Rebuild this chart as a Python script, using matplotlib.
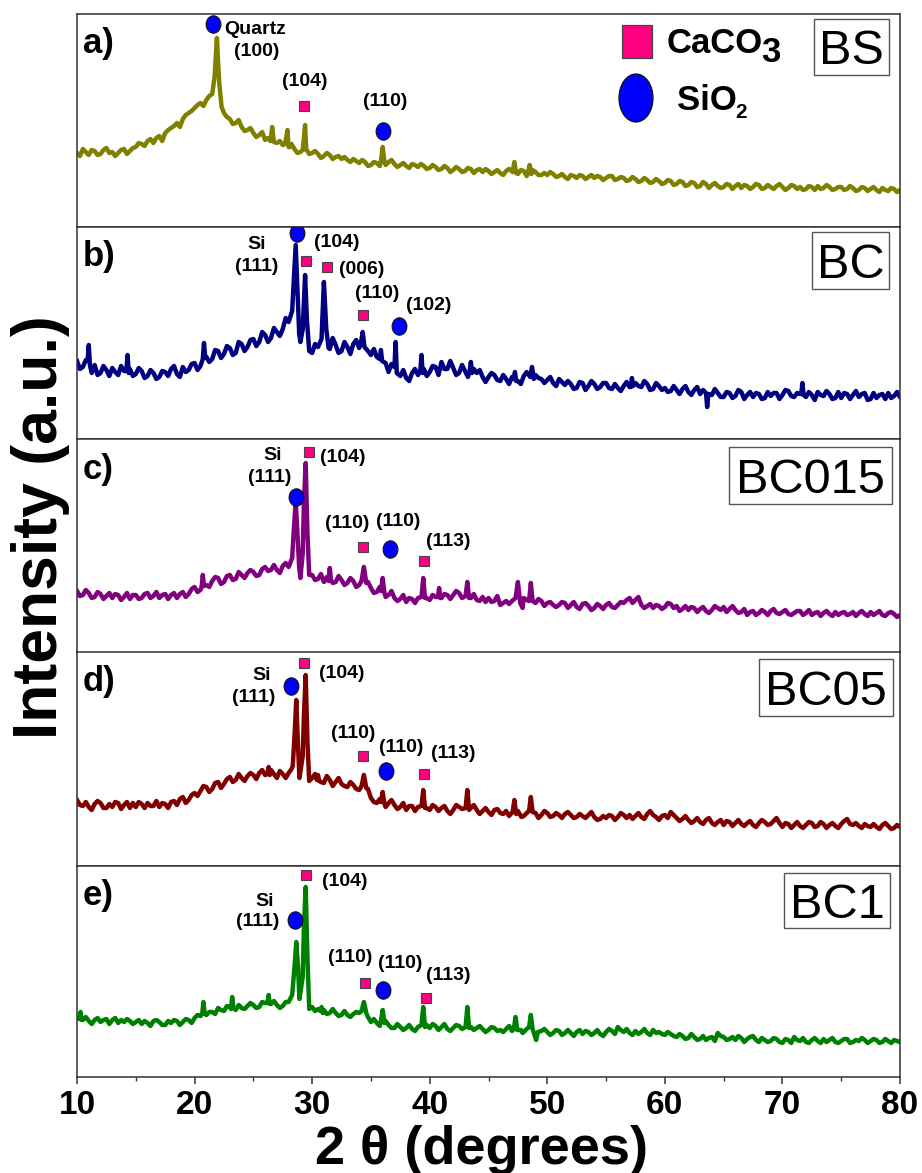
import numpy as np
import matplotlib
matplotlib.use("Agg")
from matplotlib import pyplot as plt
from matplotlib.patches import Rectangle, Ellipse
from matplotlib.path import Path
from matplotlib.transforms import Affine2D

plt.rcParams['font.family'] = ['Liberation Sans', 'DejaVu Sans']

# 2theta grids (degrees): whole/half degrees and the quarter points between them
x_grid = np.arange(10, 80.01, 0.5)
x_mid = np.arange(10.25, 80, 0.5)

# ---- background intensities (a.u.) on the 0.5 degree grid ----
bs_base = [74, 78, 72, 76, 73, 79, 75, 74, 78, 76,
           80, 83, 86, 84, 91, 94, 99, 104, 108, 114,
           119, 124, 127, 133, 140, 114, 108, 104, 100, 97,
           94, 92, 87, 89, 84, 82, 80, 78, 75, 77,
           74, 73, 71, 72, 70, 68, 67, 68, 64, 65,
           62, 64, 66, 65, 63, 62, 61, 63, 60, 61,
           59, 60, 58, 59, 57, 58, 56, 58, 57, 55,
           56, 55, 54, 56, 55, 53, 56, 54, 55, 52,
           52, 53, 51, 50, 52, 49, 51, 50, 49, 50,
           49, 51, 48, 49, 47, 48, 46, 47, 45, 46,
           44, 46, 43, 45, 42, 44, 41, 43, 42, 41,
           40, 42, 41, 39, 41, 40, 42, 39, 40, 41,
           40, 39, 41, 40, 38, 40, 41, 39, 40, 38,
           40, 38, 39, 37, 39, 38, 37, 39, 36, 38,
           37]
bs_mid = [71, 75, 77, 72, 77, 74, 71, 77, 73, 79,
          84, 81, 88, 89, 86, 97, 101, 100, 112, 116,
          122, 121, 131, 150, 130, 110, 103, 107, 96, 99,
          90, 95, 89, 84, 86, 79, 83, 74, 79, 73,
          76, 69, 74, 68, 71, 70, 65, 66, 67, 61,
          65, 61, 62, 67, 60, 64, 59, 62, 63, 58,
          62, 57, 61, 55, 60, 55, 59, 54, 58, 58,
          53, 57, 52, 58, 52, 57, 51, 57, 52, 54,
          55, 50, 53, 48, 51, 52, 48, 52, 51, 47,
          51, 47, 50, 46, 50, 45, 49, 44, 48, 43,
          47, 42, 46, 41, 45, 40, 45, 39, 44, 39,
          43, 38, 43, 42, 38, 43, 38, 42, 38, 43,
          37, 42, 38, 37, 41, 37, 38, 42, 37, 40,
          37, 41, 36, 40, 36, 40, 35, 37, 39, 35]
bc_base = [78, 72, 70, 74, 66, 69, 71, 64, 68, 70,
           65, 68, 63, 66, 62, 67, 70, 65, 72, 69,
           76, 73, 82, 80, 88, 85, 91, 86, 95, 92,
           100, 97, 104, 101, 107, 110, 117, 124, 97, 100,
           86, 92, 98, 90, 94, 88, 92, 95, 91, 98,
           84, 82, 80, 67, 72, 63, 61, 66, 64, 70,
           67, 72, 77, 70, 71, 66, 68, 74, 66, 62,
           62, 64, 58, 60, 62, 58, 63, 60, 64, 60,
           59, 56, 60, 54, 55, 51, 56, 53, 55, 52,
           56, 50, 51, 53, 52, 56, 52, 55, 50, 53,
           51, 48, 49, 50, 47, 49, 45, 50, 44, 46,
           42, 46, 43, 47, 44, 42, 45, 41, 43, 46,
           44, 48, 42, 45, 42, 44, 47, 43, 45, 41,
           41, 45, 44, 42, 46, 40, 41, 45, 46, 43,
           42]
bc_mid = [70, 79, 66, 64, 73, 63, 67, 73, 61, 63,
          71, 61, 69, 60, 68, 63, 73, 62, 67, 75,
          69, 86, 77, 89, 81, 93, 84, 97, 88, 99,
          93, 107, 97, 111, 103, 121, 113, 140, 105, 90,
          95, 85, 95, 101, 86, 97, 85, 99, 90, 88,
          90, 74, 76, 75, 60, 69, 58, 70, 59, 63,
          73, 64, 70, 78, 64, 74, 62, 70, 69, 57,
          66, 59, 64, 55, 66, 55, 67, 57, 61, 56,
          62, 53, 57, 58, 50, 57, 49, 58, 50, 56,
          51, 55, 48, 57, 48, 53, 58, 49, 56, 49,
          47, 53, 45, 53, 44, 52, 49, 41, 50, 42,
          47, 41, 49, 40, 47, 46, 40, 47, 46, 40,
          49, 43, 46, 40, 47, 39, 44, 48, 40, 47,
          46, 40, 48, 45, 39, 46, 44, 40, 41, 47]
bc015_base = [62, 58, 60, 56, 59, 57, 55, 58, 56, 54,
              58, 55, 60, 57, 55, 59, 58, 55, 61, 59,
              66, 63, 68, 72, 75, 71, 78, 74, 78, 80,
              81, 78, 86, 83, 83, 87, 86, 90, 75, 180,
              78, 74, 71, 80, 71, 73, 70, 72, 68, 78,
              65, 61, 62, 58, 55, 54, 51, 54, 55, 60,
              53, 56, 55, 58, 58, 60, 58, 55, 53, 56,
              55, 52, 48, 52, 52, 50, 55, 50, 50, 52,
              50, 48, 48, 50, 48, 46, 49, 47, 45, 47,
              48, 46, 48, 50, 55, 53, 48, 47, 45, 47,
              46, 49, 47, 44, 43, 45, 44, 42, 43, 45,
              46, 44, 43, 41, 38, 42, 40, 41, 42, 40,
              41, 39, 40, 42, 40, 38, 41, 40, 39, 41,
              40, 38, 41, 40, 39, 41, 40, 38, 40, 39,
              38]
bc015_mid = [57, 63, 55, 61, 54, 60, 59, 53, 60, 58,
             54, 59, 55, 61, 58, 54, 60, 59, 56, 64,
             61, 70, 66, 76, 69, 77, 73, 81, 75, 83,
             77, 84, 82, 88, 80, 90, 83, 95, 80, 76,
             73, 79, 76, 70, 77, 68, 75, 66, 73, 71,
             60, 66, 56, 62, 52, 58, 55, 50, 57, 55,
             58, 52, 59, 54, 62, 55, 54, 59, 52, 51,
             51, 57, 50, 49, 55, 48, 53, 47, 54, 47,
             51, 46, 51, 45, 51, 44, 50, 43, 49, 44,
             50, 45, 51, 53, 50, 56, 45, 49, 48, 44,
             50, 45, 42, 47, 46, 41, 46, 40, 47, 43,
             41, 47, 40, 44, 41, 38, 43, 38, 44, 39,
             43, 38, 42, 38, 43, 40, 37, 42, 37, 38,
             41, 39, 37, 42, 37, 38, 42, 37, 41, 36]
bc05_base = [66, 60, 59, 62, 63, 58, 59, 63, 61, 58,
             59, 62, 63, 60, 59, 62, 64, 61, 69, 66,
             73, 75, 79, 77, 84, 82, 89, 86, 88, 90,
             91, 93, 91, 96, 88, 92, 93, 98, 83, 180,
             88, 91, 83, 86, 84, 82, 79, 81, 76, 85,
             68, 63, 70, 63, 61, 59, 56, 60, 59, 62,
             56, 59, 58, 55, 56, 59, 62, 58, 56, 55,
             54, 56, 53, 55, 52, 55, 50, 49, 53, 51,
             53, 50, 51, 52, 51, 49, 50, 51, 49, 47,
             48, 50, 49, 51, 51, 50, 49, 52, 51, 46,
             51, 54, 48, 47, 46, 45, 44, 46, 43, 44,
             41, 44, 43, 42, 43, 41, 43, 44, 42, 48,
             39, 42, 41, 40, 41, 43, 40, 42, 41, 40,
             42, 47, 41, 40, 42, 39, 39, 41, 40, 38,
             39]
bc05_mid = [61, 64, 56, 65, 58, 62, 64, 57, 64, 63,
            64, 58, 60, 65, 63, 58, 65, 67, 63, 71,
            70, 80, 74, 83, 78, 87, 84, 92, 85, 93,
            87, 96, 88, 92, 95, 88, 97, 92, 84, 82,
            92, 84, 90, 80, 88, 80, 84, 77, 82, 77,
            64, 67, 59, 66, 57, 63, 60, 55, 64, 58,
            61, 55, 60, 52, 61, 57, 59, 61, 52, 58,
            51, 57, 52, 50, 56, 49, 53, 52, 48, 55,
            49, 53, 48, 54, 48, 52, 48, 54, 46, 50,
            51, 46, 53, 48, 47, 53, 47, 55, 49, 50,
            48, 51, 45, 50, 43, 48, 42, 48, 41, 46,
            45, 40, 46, 40, 45, 39, 46, 41, 45, 43,
            43, 38, 44, 38, 44, 39, 44, 38, 43, 38,
            45, 42, 43, 38, 40, 42, 37, 43, 37, 41]
bc1_base = [59, 57, 56, 57, 55, 58, 57, 54, 55, 56,
            55, 53, 54, 56, 55, 52, 54, 56, 55, 57,
            59, 61, 62, 65, 69, 66, 70, 67, 69, 71,
            72, 70, 74, 73, 72, 71, 75, 78, 75, 180,
            70, 68, 67, 64, 64, 62, 62, 63, 64, 70,
            55, 54, 62, 52, 49, 50, 49, 48, 50, 60,
            49, 51, 50, 48, 49, 51, 52, 50, 49, 48,
            47, 49, 47, 48, 46, 50, 45, 44, 45, 46,
            45, 44, 46, 44, 44, 45, 43, 45, 44, 43,
            45, 46, 50, 45, 44, 46, 45, 44, 47, 45,
            42, 43, 40, 41, 39, 40, 38, 37, 40, 44,
            40, 38, 37, 39, 38, 41, 35, 37, 36, 38,
            34, 37, 40, 36, 35, 37, 36, 38, 37, 35,
            36, 38, 35, 36, 37, 36, 37, 35, 36, 37,
            35]
bc1_mid = [54, 60, 53, 59, 57, 53, 59, 57, 58, 53,
           57, 56, 51, 57, 52, 56, 57, 52, 58, 54,
           62, 58, 65, 63, 67, 71, 66, 72, 68, 74,
           69, 75, 71, 76, 69, 75, 72, 82, 72, 66,
           66, 71, 63, 68, 61, 66, 60, 65, 67, 60,
           58, 51, 56, 49, 53, 47, 52, 46, 53, 52,
           53, 47, 53, 46, 52, 48, 53, 47, 51, 45,
           50, 46, 45, 51, 49, 47, 48, 47, 42, 48,
           42, 47, 42, 47, 41, 47, 46, 42, 47, 41,
           48, 43, 47, 48, 42, 43, 48, 42, 44, 43,
           45, 41, 43, 38, 43, 37, 41, 39, 36, 41,
           37, 40, 41, 35, 40, 37, 39, 35, 39, 35,
           38, 34, 37, 39, 34, 39, 34, 35, 39, 34,
           38, 34, 37, 39, 34, 38, 34, 38, 34, 36]

# ---- sharp reflections (2theta, intensity) ----
bs_peak_x = [21.7, 21.8, 21.9, 22.0, 22.1, 22.3, 26.45, 26.6, 26.75, 27.7, 27.9, 28.1,
             29.2, 29.4, 29.6, 35.85, 36.0, 36.15, 47.05, 47.2, 47.35, 48.35, 48.5, 48.65]
bs_peak_y = [150, 170, 189, 165, 144, 120, 86, 100, 85, 83, 97, 80,
             77, 102, 76, 66, 80, 65, 55, 65, 54, 54, 62, 53]
bc_peak_x = [10.9, 11.0, 11.1, 14.2, 14.3, 14.4, 20.7, 20.8, 20.9,
             28.3, 28.45, 28.6, 28.75, 28.9, 29.2, 29.4, 29.55, 29.75,
             30.8, 31.0, 31.2, 31.4, 34.15, 34.3, 34.45, 35.75, 35.85, 35.95,
             37.0, 37.1, 37.2, 39.2, 39.3, 39.4, 43.4, 43.5, 43.6,
             47.15, 47.25, 47.35, 48.55, 48.7, 48.85, 57.1, 57.2, 57.3,
             63.5, 63.6, 63.7, 71.6, 71.7, 71.8]
bc_peak_y = [78, 94, 74, 68, 84, 66, 80, 96, 82,
             128, 160, 194, 150, 105, 110, 164, 120, 88,
             100, 157, 110, 91, 96, 107, 92, 80, 89, 78,
             72, 97, 66, 68, 84, 66, 68, 77, 66,
             60, 67, 58, 62, 72, 60, 52, 61, 53,
             46, 32, 45, 45, 56, 44]
bc015_peak_x = [20.6, 20.7, 20.8, 28.3, 28.45, 28.6, 28.75, 28.9,
                29.2, 29.3, 29.45, 29.6, 29.75, 31.4, 31.5, 31.6,
                34.2, 34.4, 34.6, 35.85, 36.0, 36.15, 39.3, 39.45, 39.6,
                40.7, 40.8, 40.9, 43.05, 43.2, 43.35,
                47.3, 47.5, 47.7, 47.9, 48.45, 48.6, 48.75]
bc015_peak_y = [66, 78, 67, 95, 125, 152, 120, 85,
                100, 150, 190, 120, 78, 72, 85, 73,
                72, 86, 70, 62, 75, 60, 56, 75, 55,
                56, 65, 55, 57, 71, 55,
                55, 71, 50, 45, 52, 70, 52]
bc05_peak_x = [26.2, 26.3, 26.4, 28.35, 28.5, 28.65, 28.8, 28.92,
               29.2, 29.3, 29.45, 29.6, 29.75, 30.4, 30.5, 30.6,
               34.2, 34.4, 34.6, 35.85, 36.0, 36.15, 39.3, 39.45, 39.6,
               43.05, 43.2, 43.35, 47.05, 47.2, 47.35, 47.8, 48.45, 48.6, 48.75]
bc05_peak_y = [92, 99, 91, 100, 130, 166, 120, 88,
               110, 150, 191, 125, 85, 86, 91, 85,
               80, 91, 78, 64, 74, 62, 60, 76, 58,
               58, 76, 56, 54, 66, 52, 49, 55, 69, 54]
bc1_peak_x = [10.2, 10.3, 10.4, 20.65, 20.75, 20.85, 23.1, 23.2, 23.3, 26.2, 26.3, 26.4,
              28.3, 28.5, 28.65, 28.8, 28.92, 29.2, 29.3, 29.45, 29.6, 29.75,
              30.7, 30.8, 30.9, 34.2, 34.4, 34.6, 35.85, 36.0, 36.15,
              39.3, 39.45, 39.6, 43.05, 43.2, 43.35,
              47.15, 47.3, 47.45, 47.9, 48.45, 48.6, 48.75, 49.05, 49.2]
bc1_peak_y = [58, 65, 57, 63, 75, 64, 68, 80, 69, 74, 82, 73,
              82, 110, 135, 110, 78, 100, 150, 190, 120, 68,
              66, 70, 64, 66, 75, 64, 56, 67, 54,
              52, 70, 50, 50, 70, 49,
              48, 60, 47, 44, 50, 62, 48, 37, 45]

samples = ['BS', 'BC', 'BC015', 'BC05', 'BC1']
letters = ['a)', 'b)', 'c)', 'd)', 'e)']
colors = ['#808000', '#000080', '#800080', '#800000', '#008000']


def merge(base, mid, px, py):
    # background on both grids, with the sharp reflections put in
    gx = np.concatenate([x_grid, x_mid])
    gy = np.concatenate([np.asarray(base, float), np.asarray(mid, float)])
    keep = [i for i, x in enumerate(gx) if all(abs(x - p) > 0.08 for p in px)]
    x = np.concatenate([gx[keep], px])
    y = np.concatenate([gy[keep], py])
    order = np.argsort(x)
    return x[order], y[order]


series = [merge(bs_base, bs_mid, bs_peak_x, bs_peak_y),
          merge(bc_base, bc_mid, bc_peak_x, bc_peak_y),
          merge(bc015_base, bc015_mid, bc015_peak_x, bc015_peak_y),
          merge(bc05_base, bc05_mid, bc05_peak_x, bc05_peak_y),
          merge(bc1_base, bc1_mid, bc1_peak_x, bc1_peak_y)]

# phase markers and Miller indices for every panel
annotations = [
    {'circle': [(21.57, 203), (36.0, 96)], 'square': [(29.3, 121)],
     'text': [('(100)', 25.3, 175), ('(104)', 29.4, 145), ('(110)', 36.2, 126)]},
    {'circle': [(28.7, 206), (37.4, 113)], 'square': [(29.5, 178), (31.3, 172), (34.3, 124)],
     'text': [('Si', 25.3, 194), ('(111)', 25.3, 172), ('(104)', 32.1, 196), ('(006)', 34.2, 169),
              ('(110)', 35.5, 146), ('(102)', 39.9, 134)]},
    {'circle': [(28.6, 156), (36.6, 104)], 'square': [(29.7, 201), (34.3, 106), (39.5, 92)],
     'text': [('Si', 26.6, 197), ('(111)', 26.4, 175), ('(104)', 32.6, 195), ('(110)', 33.0, 130),
              ('(110)', 37.3, 131), ('(113)', 41.6, 112)]},
    {'circle': [(28.2, 180), (36.3, 95)], 'square': [(29.3, 203), (34.3, 110), (39.5, 92)],
     'text': [('Si', 25.7, 191), ('(111)', 25.0, 169), ('(104)', 32.5, 193), ('(110)', 33.5, 133),
              ('(110)', 37.6, 118), ('(113)', 42.0, 112)]},
    {'circle': [(28.5, 157), (36.0, 87)], 'square': [(29.5, 202), (34.5, 94), (39.7, 79)],
     'text': [('Si', 26.0, 176), ('(111)', 25.4, 156), ('(104)', 32.8, 195), ('(110)', 33.2, 119),
              ('(110)', 37.5, 114), ('(113)', 41.6, 102)]},
]

W, H = 922, 1173
panel_px = [(14, 227), (227, 439), (439, 653), (652, 866), (866, 1077)]
box_px = [(814, 889, 19, 75), (812, 889, 232, 289), (729, 892, 447, 504),
          (759, 893, 659, 716), (784, 890, 873, 928)]
ax_left, ax_right = 77, 900
aw = ax_right - ax_left

oval = Path(Affine2D().scale(0.85, 1.0).transform_path(Path.unit_circle()).vertices,
            Path.unit_circle().codes)

fig = plt.figure(figsize=(W / 100, H / 100), dpi=100)
axes = []
for i, (top, bottom) in enumerate(panel_px):
    ax = fig.add_axes([ax_left / W, 1 - bottom / H, aw / W, (bottom - top) / H])
    axes.append(ax)
    ph = bottom - top
    x, y = series[i]
    ax.plot(x, y, color=colors[i], lw=3.2, solid_joinstyle='round', zorder=2)
    ax.set_xlim(10, 80)
    ax.set_ylim(0, ph)
    ax.set_yticks([])
    for sp in ax.spines.values():
        sp.set_color('#333333')
        sp.set_linewidth(1.1)

    ann = annotations[i]
    for cx, cy in ann['circle']:
        ax.plot(cx, cy, marker=oval, ms=12.5, mfc='#0000FF', mec='#111111', mew=0.8, zorder=4)
    for sx, sy in ann['square']:
        ax.plot(sx, sy, marker='s', ms=7.3, mfc='#FF0080', mec='#444444', mew=0.8, zorder=4)
    for t, tx, ty in ann['text']:
        ax.text(tx, ty, t, fontsize=14, fontweight='bold', ha='center', va='center', zorder=5)

    ax.text(6 / aw, 1 - 30 / ph, letters[i], transform=ax.transAxes, fontsize=25,
            fontweight='bold', ha='left', va='center')

    bx0, bx1, by0, by1 = box_px[i]
    ax.add_patch(Rectangle(((bx0 - ax_left) / aw, (bottom - by1) / ph), (bx1 - bx0) / aw,
                           (by1 - by0) / ph, transform=ax.transAxes, fc='white', ec='#555555',
                           lw=1.0, zorder=5))
    ax.text(((bx0 + bx1) / 2 - ax_left) / aw, (bottom - (by0 + by1) / 2) / ph, samples[i],
            transform=ax.transAxes, fontsize=35, ha='center', va='center_baseline', zorder=6)

    if i < 4:
        ax.tick_params(axis='x', which='both', bottom=False, labelbottom=False)

# quartz label in panel a
axes[0].text(22.5, 197, 'Quartz', fontsize=14, fontweight='bold', ha='left', va='center')

# phase legend in panel a
ax0 = axes[0]
ax0.add_patch(Rectangle((0.6622, 0.7934), 0.0365, 0.155, transform=ax0.transAxes,
                        fc='#FF0080', ec='#444444', lw=0.9, zorder=5))
ax0.text(0.7169, 0.8169, 'CaCO', transform=ax0.transAxes, fontsize=25, fontweight='bold',
         va='baseline', ha='left')
ax0.text(0.831, 0.775, '3', transform=ax0.transAxes, fontsize=25, fontweight='bold',
         va='baseline', ha='left')
ax0.add_patch(Ellipse((0.6792, 0.6056), 0.0413, 0.2254, transform=ax0.transAxes,
                      fc='#0000FF', ec='#111111', lw=0.9, zorder=5))
ax0.text(0.729, 0.549, 'SiO', transform=ax0.transAxes, fontsize=25, fontweight='bold',
         va='baseline', ha='left')
ax0.text(0.800, 0.512, '2', transform=ax0.transAxes, fontsize=15, fontweight='bold',
         va='baseline', ha='left')

# bottom axis
axb = axes[-1]
axb.set_xticks(np.arange(10, 81, 10))
axb.set_xticks(np.arange(15, 80, 10), minor=True)
axb.tick_params(axis='x', which='major', direction='out', length=5, width=1.1,
                color='#333333', labelsize=24, pad=4)
axb.tick_params(axis='x', which='minor', direction='out', length=3, width=1.0, color='#333333')
for lab in axb.get_xticklabels():
    lab.set_fontweight('bold')

fig.text(482 / W, 1 - 1150 / H, '2 θ (degrees)', fontsize=39, fontweight='bold',
         ha='center', va='center')
fig.text(40 / W, 1 - 527 / H, 'Intensity (a.u.)', fontsize=45, fontweight='bold',
         ha='center', va='center', rotation=90)

fig.savefig('out.png', dpi=100)
